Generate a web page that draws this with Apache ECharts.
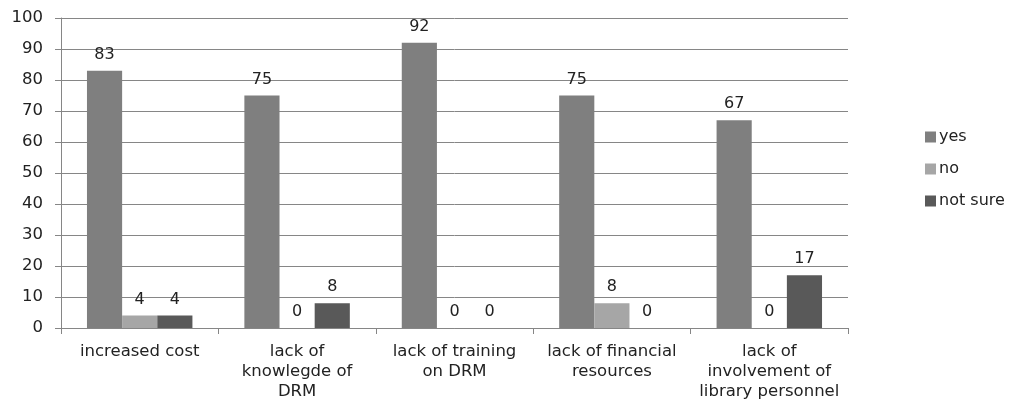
<!DOCTYPE html>
<html>
<head>
<meta charset="utf-8">
<script src="https://cdn.jsdelivr.net/npm/echarts@6/dist/echarts.min.js"></script>
<style>
html,body{margin:0;padding:0;background:#fff;}
#c{width:1010px;height:403px;}
</style>
</head>
<body>
<div id="c"></div>
<script>
var categories = ['increased cost', 'lack of\nknowlegde of\nDRM', 'lack of training\non DRM', 'lack of financial\nresources', 'lack of\ninvolvement of\nlibrary personnel'];
var yesValues = [83, 75, 92, 75, 67];
var noValues = [4, 0, 0, 8, 0];
var notSureValues = [4, 8, 0, 0, 17];
var yTicks = [0, 10, 20, 30, 40, 50, 60, 70, 80, 90, 100];

var font = 'DejaVu Sans';
var chart = echarts.init(document.getElementById('c'));
function lbl() {
  return { show: true, position: 'top', distance: 8, color: '#222', fontFamily: font, fontSize: 16 };
}
chart.setOption({
  animation: false,
  backgroundColor: '#fff',
  grid: { left: 61, right: 162, top: 18, bottom: 75 },
  legend: {
    orient: 'vertical', left: 920, top: 124,
    itemWidth: 11, itemHeight: 11, itemGap: 16,
    icon: 'rect',
    textStyle: { fontFamily: font, fontSize: 16, color: '#222', padding: [0, 0, 0, -2] },
    data: ['yes', 'no', 'not sure']
  },
  xAxis: {
    type: 'category',
    data: categories,
    axisLine: { lineStyle: { color: '#868686' } },
    axisTick: { show: true, length: 6, lineStyle: { color: '#868686' } },
    axisLabel: { color: '#222', fontFamily: font, fontSize: 16.5, lineHeight: 20, margin: 14, interval: 0 }
  },
  yAxis: {
    type: 'value', min: yTicks[0], max: yTicks[yTicks.length - 1], interval: 10,
    axisLine: { show: true, lineStyle: { color: '#868686' } },
    axisTick: { show: true, length: 6, lineStyle: { color: '#868686' } },
    splitLine: { lineStyle: { color: '#868686' } },
    axisLabel: { color: '#222', fontFamily: font, fontSize: 16.5, margin: 18 }
  },
  series: [
    { name: 'yes', type: 'bar', data: yesValues, itemStyle: { color: '#7f7f7f' }, barGap: '0%', barCategoryGap: '33%', label: lbl() },
    { name: 'no', type: 'bar', data: noValues, itemStyle: { color: '#a6a6a6' }, barGap: '0%', barCategoryGap: '33%', label: lbl() },
    { name: 'not sure', type: 'bar', data: notSureValues, itemStyle: { color: '#595959' }, barGap: '0%', barCategoryGap: '33%', label: lbl() }
  ]
});
</script>
</body>
</html>
